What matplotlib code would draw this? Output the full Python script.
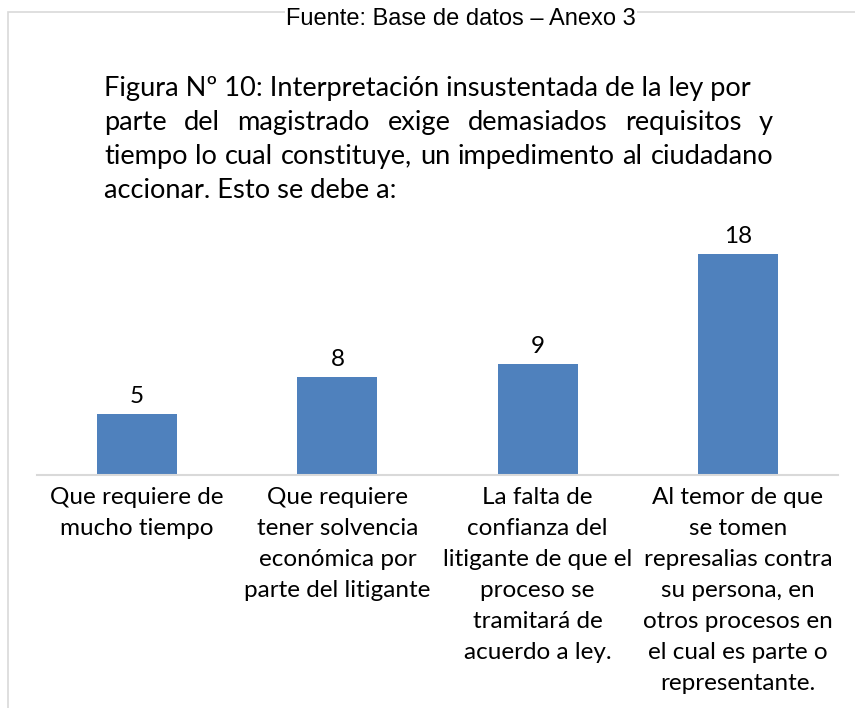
import matplotlib
matplotlib.use("Agg")
import matplotlib.pyplot as plt
from matplotlib.patches import Rectangle

# datos del gráfico
categorias = [
    "Que requiere de\nmucho tiempo",
    "Que requiere\ntener solvencia\neconómica por\nparte del litigante",
    "La falta de\nconfianza del\nlitigante de que el\nproceso se\ntramitará de\nacuerdo a ley.",
    "Al temor de que\nse tomen\nrepresalias contra\nsu persona, en\notros procesos en\nel cual es parte o\nrepresentante.",
]
valores = [5, 8, 9, 18]

titulo = [
    "Figura Nº 10: Interpretación insustentada de la ley por",
    "parte del magistrado exige demasiados requisitos y",
    "tiempo lo cual constituye, un impedimento al ciudadano",
    "accionar. Esto se debe a:",
]
fuente = "Fuente: Base de datos – Anexo 3"

W, H = 855, 708
FONT = "Lato"
AZUL = "#4F81BD"
GRIS = "#D9D9D9"

fig = plt.figure(figsize=(W / 100, H / 100), dpi=100)
fig.patch.set_facecolor("white")

# marco del área del gráfico
fig.patches.append(Rectangle((8 / W, -0.05), 1.1, 1.05 - 12 / H, transform=fig.transFigure,
                             fill=False, edgecolor=GRIS, linewidth=1.2))

fig.text(461 / W, 1 - 19 / H, fuente, ha="center", va="center", fontsize=17,
         family="Liberation Sans", color="black",
         bbox=dict(facecolor="white", edgecolor="none", pad=1))

# título justificado
renderer = fig.canvas.get_renderer()
x0, x1 = 104, 773
bases = [96, 130, 164, 198]
tsize = 19.6
for i, (linea, yb) in enumerate(zip(titulo, bases)):
    yf = 1 - yb / H
    if i in (1, 2):
        palabras = linea.split()
        anchos = []
        for p in palabras:
            t = fig.text(0, 0, p, fontsize=tsize, family=FONT)
            anchos.append(t.get_window_extent(renderer).width)
            t.remove()
        hueco = (x1 - x0 - sum(anchos)) / (len(palabras) - 1)
        x = x0
        for p, w in zip(palabras, anchos):
            fig.text(x / W, yf, p, fontsize=tsize, family=FONT, va="baseline", ha="left")
            x += w + hueco
    else:
        fig.text(x0 / W, yf, linea, fontsize=tsize, family=FONT, va="baseline", ha="left")

ax = fig.add_axes([37 / W, 1 - 475 / H, (838 - 37) / W, (475 - 223) / H])
pos = range(len(valores))
barras = ax.bar(pos, valores, width=0.40, color=AZUL)
ax.set_xlim(-0.5, len(valores) - 0.5)
ax.set_ylim(0, 20.5)
ax.bar_label(barras, padding=5, fontsize=17.5, family=FONT)

for lado in ["top", "right", "left"]:
    ax.spines[lado].set_visible(False)
ax.spines["bottom"].set_color(GRIS)
ax.spines["bottom"].set_linewidth(1.5)
ax.set_yticks([])
ax.set_xticks(list(pos))
ax.set_xticklabels(categorias, fontsize=17.5, family=FONT, linespacing=1.58)
ax.tick_params(axis="x", length=0, pad=9)

fig.savefig("out.png", dpi=100)
